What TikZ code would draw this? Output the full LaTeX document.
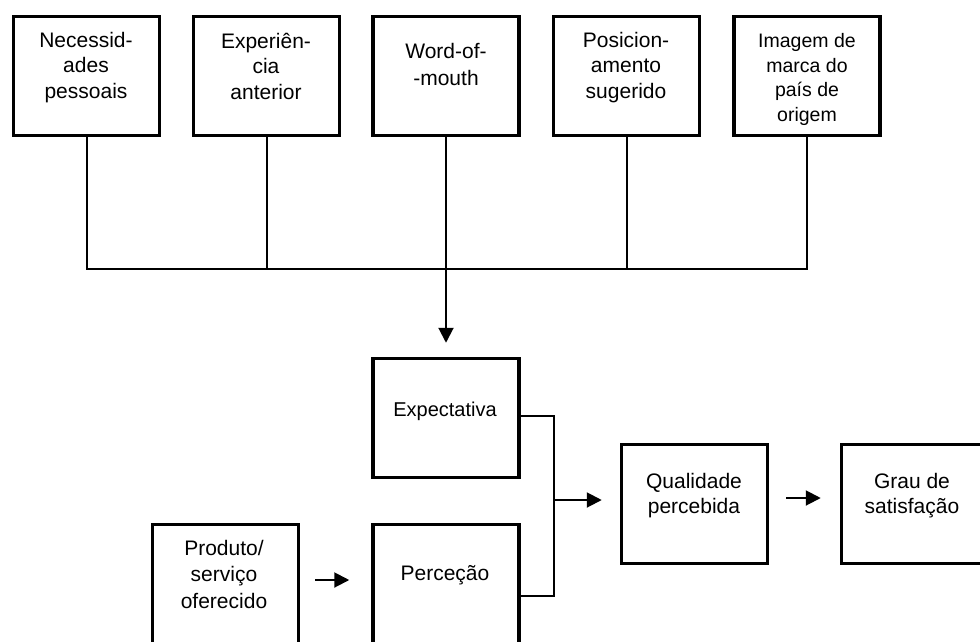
\documentclass[tikz,border=0pt]{standalone}
\usepackage{fontspec}
\setmainfont{Liberation Sans}
\usetikzlibrary{arrows.meta,calc}
\begin{document}
\begin{tikzpicture}[x=1pt,y=-1pt,
  box/.style={draw, line width=3.5pt, minimum width=146pt, minimum height=119pt, inner sep=0pt},
  lbl/.style={align=center, inner sep=0pt, anchor=base, font=\fontsize{21}{25.5}\selectfont},
  wire/.style={line width=2pt},
  arr/.style={wire, -{Triangle[length=15pt,width=15pt]}}]
\useasboundingbox (0,0) rectangle (980,641);
\clip (0,0) rectangle (980,641);

% influencing factors (top row); labels are placed by the baseline of their last line
\node[box] (b1) at (86.5,76) {};
\node[box] (b2) at (266.5,76) {};
\node[box] (b3) at (446,76) {};
\node[box] (b4) at (626.5,76) {};
\node[box] (b5) at (807,76) {};

\node[lbl] (t1) at (86,98) {Necessid-\\ades\\pessoais};
\node[lbl] (t2) at (266,99) {Experiên-\\cia\\anterior};
\node[lbl, font=\fontsize{21}{27}\selectfont] (t3) at (446,85) {Word-of-\\-mouth};
\node[lbl] (t4) at (626,98) {Posicion-\\amento\\sugerido};
\node[lbl, font=\fontsize{19.5}{24.5}\selectfont] (t5) at (807,121) {Imagem de\\marca do\\país de\\origem};

% lower chain
\node[box] (exp) at (446,418) {};
\node[box] (per) at (446,584) {};
\node[box] (prod) at (225.5,584) {};
\node[box] (qual) at (694.5,504) {};
\node[box] (grau) at (914.5,504) {};

\node[lbl, font=\fontsize{20}{24}\selectfont] (texp) at (445,416) {Expectativa};
\node[lbl] (tper) at (445,580) {Perceção};
\node[lbl, font=\fontsize{21}{26.5}\selectfont] (tprod) at (224,608) {Produto/\\serviço\\oferecido};
\node[lbl] (tqual) at (694,513.5) {Qualidade\\percebida};
\node[lbl] (tgrau) at (912,513.5) {Grau de\\satisfação};

% bus collecting the top row
\coordinate (bus) at (0,269);
\draw[wire] (b1.south) -- (b1.south |- bus) -- (b5.south |- bus) -- (b5.south);
\draw[wire] (b2.south) -- (b2.south |- bus);
\draw[wire] (b4.south) -- (b4.south |- bus);
\draw[arr, shorten >=14pt] (b3.south) -- (exp.north);

% expectation and perception merge into perceived quality
\coordinate (merge) at (554,500);
\draw[wire] ($(exp.east)+(0,-2)$) -| (merge) |- ($(per.east)+(0,12)$);
\draw[arr, shorten >=18pt] (merge) -- (merge -| qual.west);

\draw[arr, shorten <=15pt, shorten >=22pt] ($(prod.east)+(0,-4)$) -- ($(per.west)+(0,-4)$);
\draw[arr, shorten <=17pt, shorten >=19pt] ($(qual.east)+(0,-6)$) -- ($(grau.west)+(0,-6)$);
\end{tikzpicture}
\end{document}
